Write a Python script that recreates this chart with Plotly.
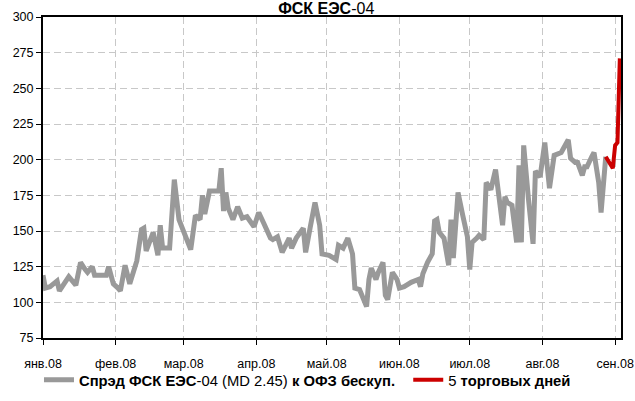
import plotly.graph_objects as go

# Spread data (bp)
spread_dates = [
    "2008-01-01", "2008-01-02", "2008-01-04", "2008-01-07", "2008-01-08", "2008-01-10", "2008-01-12",
    "2008-01-15", "2008-01-17", "2008-01-19", "2008-01-20", "2008-01-22", "2008-01-23", "2008-01-25",
    "2008-01-28", "2008-01-29", "2008-01-31", "2008-02-02", "2008-02-03", "2008-02-05", "2008-02-07",
    "2008-02-10", "2008-02-12", "2008-02-13", "2008-02-14", "2008-02-17", "2008-02-19", "2008-02-20",
    "2008-02-21", "2008-02-24", "2008-02-26", "2008-02-28", "2008-03-01", "2008-03-04", "2008-03-06",
    "2008-03-08", "2008-03-09", "2008-03-10", "2008-03-12", "2008-03-16", "2008-03-17", "2008-03-18",
    "2008-03-19", "2008-03-20", "2008-03-22", "2008-03-24", "2008-03-26", "2008-03-28", "2008-03-31",
    "2008-04-02", "2008-04-04", "2008-04-07", "2008-04-08", "2008-04-10", "2008-04-12", "2008-04-15",
    "2008-04-16", "2008-04-18", "2008-04-21", "2008-04-22", "2008-04-24", "2008-04-26", "2008-04-28",
    "2008-04-29", "2008-05-02", "2008-05-05", "2008-05-06", "2008-05-08", "2008-05-10", "2008-05-12",
    "2008-05-13", "2008-05-15", "2008-05-18", "2008-05-19", "2008-05-20", "2008-05-22", "2008-05-23",
    "2008-05-25", "2008-05-26", "2008-05-27", "2008-05-29", "2008-05-31", "2008-06-01", "2008-06-03",
    "2008-06-06", "2008-06-09", "2008-06-10", "2008-06-11", "2008-06-13", "2008-06-15", "2008-06-16",
    "2008-06-17", "2008-06-18", "2008-06-20", "2008-06-22", "2008-06-23", "2008-06-24", "2008-06-26",
    "2008-06-28", "2008-06-30", "2008-07-01", "2008-07-02", "2008-07-04", "2008-07-05", "2008-07-07",
    "2008-07-08", "2008-07-10", "2008-07-12", "2008-07-15", "2008-07-16", "2008-07-17", "2008-07-19",
    "2008-07-21", "2008-07-22", "2008-07-23", "2008-07-24", "2008-07-26", "2008-07-28", "2008-07-29",
    "2008-07-31", "2008-08-02", "2008-08-04", "2008-08-06", "2008-08-09", "2008-08-10", "2008-08-12",
    "2008-08-13", "2008-08-15", "2008-08-16", "2008-08-18", "2008-08-19", "2008-08-20", "2008-08-22",
    "2008-08-23", "2008-08-25", "2008-08-26", "2008-08-28",
]
spread_values = [
    119, 110, 111, 115, 108, 113, 118,
    112, 128, 123, 121, 125, 119, 119,
    119, 125, 113, 110, 108, 126, 113,
    129, 151, 152, 136, 149, 133, 154,
    138, 138, 186, 158, 150, 137, 161,
    158, 175, 162, 178, 178, 194, 164,
    177, 166, 158, 167, 159, 160, 153,
    163, 156, 145, 144, 146, 135, 145,
    138, 145, 152, 135, 153, 170, 154,
    134, 133, 130, 140, 138, 145, 134,
    110, 109, 97, 116, 124, 116, 121,
    128, 105, 102, 121, 116, 110, 111,
    114, 116, 111, 120, 128, 134, 157,
    158, 149, 145, 126, 158, 131, 177,
    161, 146, 123, 142, 145, 147, 144,
    184, 179, 193, 154, 174, 170, 168,
    142, 196, 142, 210, 173, 141, 192,
    188, 212, 180, 203, 205, 208, 214,
    201, 198, 198, 189, 195, 195, 202,
    205, 184, 163, 202,
]

last5_dates = ["2008-08-28", "2008-08-31", "2008-09-01", "2008-09-02", "2008-09-03"]
last5_values = [202, 194, 210, 212, 271]

tick_dates = ["2008-01-01", "2008-02-01", "2008-03-01", "2008-04-01", "2008-05-01",
              "2008-06-01", "2008-07-01", "2008-08-01", "2008-09-01"]
tick_labels = ["янв.08", "фев.08", "мар.08", "апр.08", "май.08",
               "июн.08", "июл.08", "авг.08", "сен.08"]
y_ticks = [75, 100, 125, 150, 175, 200, 225, 250, 275, 300]

FONT = "Liberation Sans, Arial, sans-serif"

fig = go.Figure()
fig.add_trace(go.Scatter(
    x=spread_dates, y=spread_values, mode="lines",
    line=dict(color="#999999", width=5),
    name="<b>Спрэд ФСК ЕЭС</b>-04 (MD 2.45) <b>к ОФЗ бескуп.</b>\u00a0\u00a0",
))
fig.add_trace(go.Scatter(
    x=last5_dates, y=last5_values, mode="lines",
    line=dict(color="#CC0000", width=4),
    name="5 <b>торговых дней</b>",
))

fig.update_layout(
    width=635, height=401,
    margin=dict(l=43, r=14, t=17, b=63),
    paper_bgcolor="white", plot_bgcolor="white",
    font=dict(family=FONT, size=12.5, color="black"),
    title=dict(text="<b>ФСК ЕЭС</b>-04", x=0.49, xref="paper", xanchor="center",
               y=0.9925, yref="container", yanchor="top", pad=dict(t=0, b=0),
               font=dict(family=FONT, size=16, color="black")),
    showlegend=True,
    legend=dict(orientation="h", xref="container", yref="container",
                x=0.0614, xanchor="left", y=0.052, yanchor="middle",
                font=dict(family=FONT, size=14.8, color="black"),
                bgcolor="rgba(0,0,0,0)", tracegroupgap=0, itemwidth=30),
    xaxis=dict(
        type="date", range=["2008-01-01", "2008-09-03 12:00"],
        tickvals=tick_dates, ticktext=tick_labels,
        showgrid=True, gridcolor="#c8c8c8", griddash="7px,4px", gridwidth=1,
        showline=True, linecolor="black", linewidth=2, mirror=True,
        ticks="outside", ticklen=5, tickcolor="black", tickwidth=1,
        ticklabelstandoff=8, ticklabeloverflow="allow", zeroline=False,
        automargin=False,
        tickfont=dict(family=FONT, size=12.5, color="black"),
    ),
    yaxis=dict(
        range=[75, 300], tickvals=y_ticks,
        showgrid=True, gridcolor="#c8c8c8", griddash="7px,4px", gridwidth=1,
        showline=True, linecolor="black", linewidth=2, mirror=True,
        ticks="outside", ticklen=5, tickcolor="black", tickwidth=1,
        zeroline=False, automargin=False,
        tickfont=dict(family=FONT, size=12.5, color="black"),
    ),
)

fig.write_html("out.html", config={"displayModeBar": False},
               post_script="document.body.style.margin='0';")
